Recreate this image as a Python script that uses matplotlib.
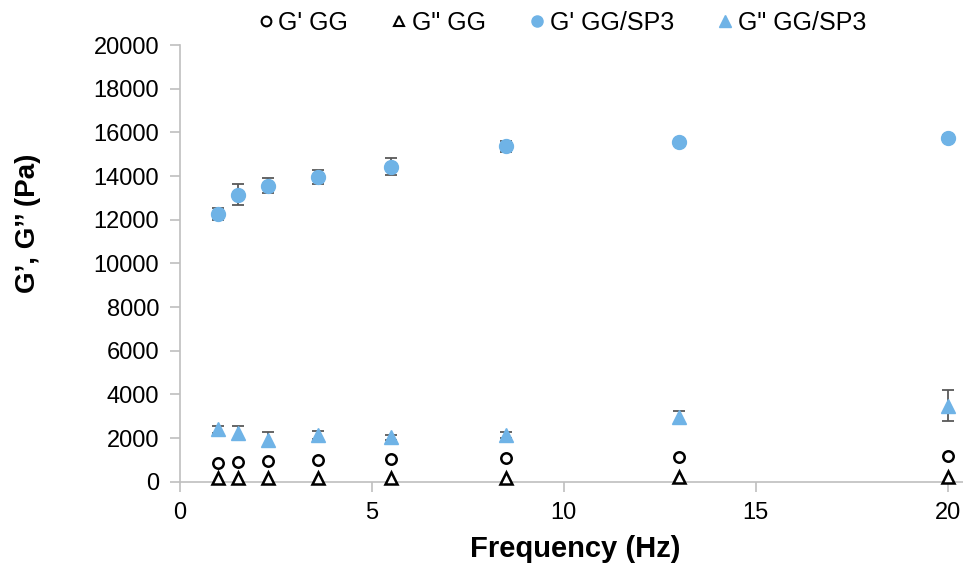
import matplotlib.pyplot as plt
from matplotlib.lines import Line2D

plt.rcParams['font.family'] = ['Liberation Sans', 'DejaVu Sans']

# Frequency sweep data
freq = [1.0, 1.5, 2.3, 3.6, 5.5, 8.5, 13.0, 20.0]

g1_gg = [840, 890, 930, 980, 1030, 1090, 1120, 1190]
g2_gg = [170, 170, 170, 180, 180, 190, 200, 210]

g1_sp3 = [12280, 13150, 13560, 13960, 14420, 15360, 15550, 15760]
g1_sp3_err = [280, 480, 330, 300, 390, 270, 100, 100]
g2_sp3 = [2390, 2250, 1920, 2140, 2040, 2140, 2960, 3480]
g2_sp3_err = [170, 320, 340, 200, 120, 130, 300, 720]

labels = ["G' GG", 'G" GG', "G' GG/SP3", 'G" GG/SP3']

blue = '#6fb3e6'
err_col = '#595959'
grey = '#bfbfbf'

fig = plt.figure(figsize=(9.63, 5.64), dpi=100)
ax = fig.add_axes([0.187, 0.146, 0.813, 0.774])

ax.plot(freq, g1_gg, 'o', mfc='white', mec='black', mew=1.8, ms=7.5,
        ls='none', zorder=4)
ax.plot(freq, g2_gg, '^', mfc='white', mec='black', mew=1.8, ms=8,
        ls='none', clip_on=False, zorder=4)
ax.errorbar(freq, g1_sp3, yerr=g1_sp3_err, fmt='o', color=blue, ms=10,
            ecolor=err_col, elinewidth=1.3, capsize=4.5, capthick=1.3)
ax.errorbar(freq, g2_sp3, yerr=g2_sp3_err, fmt='^', color=blue, ms=10,
            ecolor=err_col, elinewidth=1.3, capsize=4.5, capthick=1.3)

ax.set_xlim(0, 20.4)
ax.set_ylim(0, 20000)
ax.set_xticks([0, 5, 10, 15, 20])
ax.set_yticks(range(0, 20001, 2000))

for s in ['top', 'right']:
    ax.spines[s].set_visible(False)
for s in ['left', 'bottom']:
    ax.spines[s].set_color(grey)
    ax.spines[s].set_linewidth(1.2)
ax.tick_params(axis='both', colors=grey, labelcolor='black', labelsize=17,
               length=7, width=1.2)
ax.tick_params(axis='x', pad=8)
ax.tick_params(axis='y', pad=8)

ax.set_xlabel('Frequency (Hz)', fontsize=21, fontweight='bold')
ax.xaxis.set_label_coords(0.505, -0.122)
ax.set_ylabel('G\u2019, G\u2019\u2019 (Pa)', fontsize=20, fontweight='bold')
ax.yaxis.set_label_coords(-0.178, 0.592)

handles = [
    Line2D([], [], marker='o', ls='none', mfc='white', mec='black', mew=1.5, ms=7),
    Line2D([], [], marker='^', ls='none', mfc='white', mec='black', mew=1.5, ms=7),
    Line2D([], [], marker='o', ls='none', color=blue, ms=8),
    Line2D([], [], marker='^', ls='none', color=blue, ms=9),
]
fig.legend(handles, labels, loc='upper center', bbox_to_anchor=(0.583, 1.02),
           ncol=4, frameon=False, fontsize=18, handletextpad=0.15,
           columnspacing=1.7, handlelength=0.7)

fig.savefig('out.png', dpi=100)
